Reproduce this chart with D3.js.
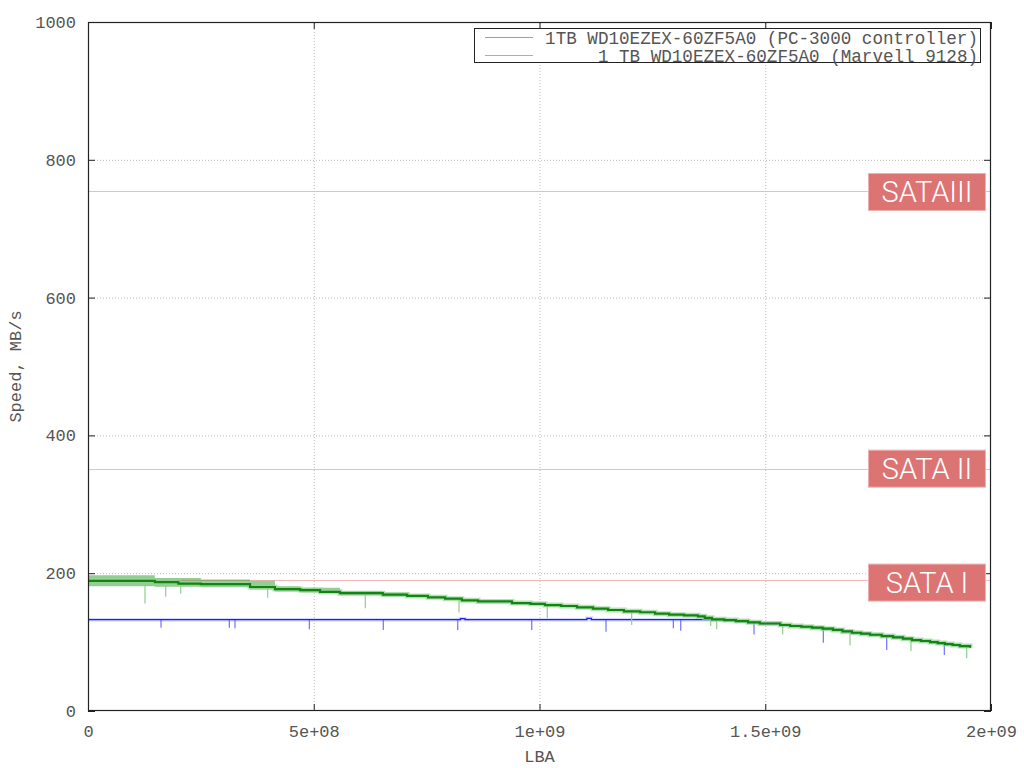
<!DOCTYPE html>
<html>
<head>
<meta charset="utf-8">
<script src="https://cdn.jsdelivr.net/npm/d3@7"></script>
<style>
  html, body { margin: 0; padding: 0; background: #fff; }
  svg { display: block; }
</style>
</head>
<body>
<svg id="chart" width="1024" height="768"></svg>
<script>
// ---------------- DATA ----------------
const xTicks = [0, 5e8, 1e9, 1.5e9, 2e9];
const xTickLabels = ["0", "5e+08", "1e+09", "1.5e+09", "2e+09"];
const yTicks = [0, 200, 400, 600, 800, 1000];
const yTickLabels = ["0", "200", "400", "600", "800", "1000"];

const seriesNames = [
  "1TB WD10EZEX-60ZF5A0 (PC-3000 controller)",
  "1 TB WD10EZEX-60ZF5A0 (Marvell 9128)"
];

// Marvell 9128 (green) main trace: [LBA, MB/s] step starts
const greenTrace = [
  [0, 189], [1.48e8, 187], [2.0e8, 185], [2.5e8, 184], [3.59e8, 180],
  [4.14e8, 177], [4.7e8, 175.5], [5.14e8, 173], [5.58e8, 171], [6.53e8, 169],
  [7.07e8, 167], [7.53e8, 165], [7.91e8, 163], [8.28e8, 160.6], [8.64e8, 159],
  [9.39e8, 156.7], [9.8e8, 155.5], [1.012e9, 153.8], [1.048e9, 152.4], [1.083e9, 150.5],
  [1.1185e9, 148.5], [1.152e9, 146.6], [1.187e9, 144.7], [1.223e9, 143.3], [1.256e9, 141.2],
  [1.287e9, 139.8], [1.32e9, 138.9], [1.351e9, 137.4], [1.366e9, 135.2], [1.382e9, 133],
  [1.409e9, 132], [1.435e9, 130.5], [1.462e9, 128.7], [1.488e9, 127], [1.533e9, 124.8],
  [1.555e9, 123.4], [1.58e9, 122.3], [1.6035e9, 121], [1.627e9, 119.5], [1.65e9, 117.6],
  [1.671e9, 115.5], [1.692e9, 113.6], [1.712e9, 112.2], [1.732e9, 110.7], [1.758e9, 108.8],
  [1.783e9, 106.9], [1.805e9, 105], [1.825e9, 103], [1.845e9, 101.6], [1.865e9, 100.1],
  [1.882e9, 98.6], [1.898e9, 97.2], [1.915e9, 95.8], [1.931e9, 94.3], [1.9535e9, 91.9]
];
// green noise band at the start of the disk: [LBA, low, high]
const greenBand = [
  [0, 181, 197], [1.48e8, 180.5, 193], [2.5e8, 179.5, 191], [3.59e8, 176.5, 189],
  [4.14e8, 173.5, 181], [4.7e8, 172, 179], [5.58e8, 168, 174], [6.53e8, 166.5, 171.5],
  [7.07e8, 164.5, 169.5]
];
// green downward spikes: [LBA, minimum MB/s]
const greenSpikes = [
  [1.262e8, 156], [1.721e8, 166], [2.053e8, 170], [3.98e8, 164.5], [6.142e8, 149],
  [8.217e8, 143], [1.0173e9, 134.5], [1.2042e9, 124.8], [1.3792e9, 123.4], [1.3925e9, 118.6],
  [1.5386e9, 111], [1.6877e9, 95], [1.8228e9, 87], [1.9462e9, 76.5]
];

// PC-3000 (blue) trace: [LBA, MB/s]
const blueTrace = [
  [0, 132.6], [8.15e8, 132.6], [8.25e8, 134], [8.35e8, 132.6], [1.095e9, 132.6],
  [1.105e9, 134.5], [1.115e9, 132.6], [1.395e9, 132.6], [1.409e9, 132], [1.435e9, 130.5],
  [1.462e9, 128.7], [1.488e9, 127], [1.533e9, 124.8], [1.555e9, 123.4], [1.58e9, 122.3],
  [1.6035e9, 121], [1.627e9, 119.5], [1.65e9, 117.6], [1.671e9, 115.5], [1.692e9, 113.6],
  [1.712e9, 112.2], [1.732e9, 110.7], [1.758e9, 108.8], [1.783e9, 106.9], [1.805e9, 105],
  [1.825e9, 103], [1.845e9, 101.6], [1.865e9, 100.1], [1.882e9, 98.6], [1.898e9, 97.2],
  [1.915e9, 95.8], [1.931e9, 94.3], [1.9535e9, 92.3]
];
// blue downward spikes: [LBA, minimum MB/s]
const blueSpikes = [
  [1.617e8, 121], [3.13e8, 121], [3.256e8, 120], [4.902e8, 118.6], [6.54e8, 117.6],
  [8.189e8, 117.6], [9.828e8, 117.6], [1.1473e9, 115], [1.2964e9, 120], [1.3128e9, 116.5],
  [1.4751e9, 111], [1.6286e9, 99], [1.769e9, 88.5], [1.8966e9, 81.3]
];

// interface limits
const sataNames = ["SATAIII", "SATA II", "SATA I"];
const sataValues = [754, 351, 190];

// ---------------- CHART ----------------
const m = { left: 88, right: 991, top: 22, bottom: 711 };
const svg = d3.select("#chart");
const x = d3.scaleLinear().domain([0, 2e9]).range([m.left, m.right]);
const y = d3.scaleLinear().domain([0, 1000]).range([m.bottom, m.top]);
const monoFont = "'Liberation Mono', 'DejaVu Sans Mono', monospace";
const textColor = "#555";

// grid
const gridX = svg.append("g").attr("transform", `translate(0,${m.bottom})`)
  .call(d3.axisBottom(x).tickValues(xTicks.slice(1, -1)).tickSize(-(m.bottom - m.top)).tickFormat(""));
const gridY = svg.append("g").attr("transform", `translate(${m.left},0)`)
  .call(d3.axisLeft(y).tickValues(yTicks.slice(1, -1)).tickSize(-(m.right - m.left)).tickFormat(""));
[gridX, gridY].forEach(g => {
  g.select(".domain").remove();
  g.selectAll("line").attr("stroke", "#b8b8b8").attr("stroke-width", 1).attr("stroke-dasharray", "1,2");
});

// interface limit lines
const sataColors = ["#d8c4c4", "#dcc4c4", "#f4b8b8"];
svg.append("g").selectAll("line").data(sataValues).join("line")
  .attr("x1", m.left).attr("x2", m.right)
  .attr("y1", d => Math.round(y(d)) + 0.5).attr("y2", d => Math.round(y(d)) + 0.5)
  .attr("stroke", (d, i) => sataColors[i]).attr("stroke-width", 1);

// clip
svg.append("clipPath").attr("id", "plotclip").append("rect")
  .attr("x", m.left).attr("y", m.top).attr("width", m.right - m.left).attr("height", m.bottom - m.top);
const plot = svg.append("g").attr("clip-path", "url(#plotclip)");

const stepLine = d3.line().x(d => x(d[0])).y(d => y(d[1])).curve(d3.curveStepAfter);
const stepAt = (trace, lba) => {
  const i = Math.max(0, d3.bisector(d => d[0]).right(trace, lba) - 1);
  return trace[i][1];
};

// blue series
plot.append("path").datum(blueTrace).attr("d", stepLine)
  .attr("fill", "none").attr("stroke", "#b8bcff").attr("stroke-width", 3.5).attr("opacity", 0.6);
plot.append("g").selectAll("line").data(blueSpikes).join("line")
  .attr("x1", d => x(d[0])).attr("x2", d => x(d[0]))
  .attr("y1", d => y(stepAt(blueTrace, d[0]))).attr("y2", d => y(d[1]))
  .attr("stroke", "#7070ff").attr("stroke-width", 1.2);
plot.append("path").datum(blueTrace).attr("d", stepLine)
  .attr("fill", "none").attr("stroke", "#2020f0").attr("stroke-width", 1.3);

// green series
const bandArea = d3.area().x(d => x(d[0])).y0(d => y(d[1])).y1(d => y(d[2])).curve(d3.curveStepAfter);
plot.append("path").datum(greenBand).attr("d", bandArea)
  .attr("fill", "#2a9a2a").attr("opacity", 0.5);
plot.append("path").datum(greenTrace).attr("d", stepLine)
  .attr("fill", "none").attr("stroke", "#94d494").attr("stroke-width", 5).attr("opacity", 0.7);
plot.append("g").selectAll("line").data(greenSpikes).join("line")
  .attr("x1", d => x(d[0])).attr("x2", d => x(d[0]))
  .attr("y1", d => y(stepAt(greenTrace, d[0]))).attr("y2", d => y(d[1]))
  .attr("stroke", "#8fcf8f").attr("stroke-width", 1.2);
plot.append("path").datum(greenTrace).attr("d", stepLine)
  .attr("fill", "none").attr("stroke", "#128412").attr("stroke-width", 2.2);

// axes (inward ticks, mirrored)
const tickLen = 7;
const axB = svg.append("g").attr("transform", `translate(0,${m.bottom})`)
  .call(d3.axisBottom(x).tickValues(xTicks).tickSize(-tickLen).tickFormat((d, i) => xTickLabels[i]));
const axT = svg.append("g").attr("transform", `translate(0,${m.top})`)
  .call(d3.axisTop(x).tickValues(xTicks).tickSize(-tickLen).tickFormat(""));
const axL = svg.append("g").attr("transform", `translate(${m.left},0)`)
  .call(d3.axisLeft(y).tickValues(yTicks).tickSize(-tickLen).tickFormat((d, i) => yTickLabels[i]));
const axR = svg.append("g").attr("transform", `translate(${m.right},0)`)
  .call(d3.axisRight(y).tickValues(yTicks).tickSize(-tickLen).tickFormat(""));
[axB, axT, axL, axR].forEach(g => {
  g.select(".domain").remove();
  g.selectAll("line").attr("stroke", "#222").attr("stroke-width", 1);
  g.selectAll("text").attr("font-family", monoFont).attr("font-size", 17).attr("fill", textColor);
});
axB.selectAll("text").attr("dy", "0.71em").attr("y", 14);
axL.selectAll("text").attr("x", -12);

// border
svg.append("rect").attr("x", m.left + 0.5).attr("y", m.top + 0.5)
  .attr("width", m.right - m.left - 1).attr("height", m.bottom - m.top - 1)
  .attr("fill", "none").attr("stroke", "#222").attr("stroke-width", 1.2);

// axis titles
svg.append("text").attr("x", (m.left + m.right) / 2).attr("y", 762)
  .attr("text-anchor", "middle").attr("font-family", monoFont).attr("font-size", 17)
  .attr("fill", textColor).text("LBA");
svg.append("text").attr("transform", `translate(21,${(m.top + m.bottom) / 2}) rotate(-90)`)
  .attr("text-anchor", "middle").attr("font-family", monoFont).attr("font-size", 17)
  .attr("fill", textColor).text("Speed, MB/s");

// legend
const lg = svg.append("g");
lg.append("rect").attr("x", 474.5).attr("y", 28.5).attr("width", 506).attr("height", 34)
  .attr("fill", "#fff").attr("stroke", "#222").attr("stroke-width", 1);
const legendColors = ["#9090ff", "#88c888"];
seriesNames.forEach((name, i) => {
  const ly = 37.5 + i * 18;
  lg.append("line").attr("x1", 485).attr("x2", 533).attr("y1", ly).attr("y2", ly)
    .attr("stroke", legendColors[i]).attr("stroke-width", 1);
  lg.append("text").attr("x", 978).attr("y", ly).attr("dy", "0.35em")
    .attr("text-anchor", "end").attr("font-family", monoFont).attr("font-size", 17.6)
    .attr("fill", "#555").text(name);
});

// interface labels
const boxOffsets = [-18, -19, -16];
const lab = svg.append("g");
sataValues.forEach((v, i) => {
  const top = y(v) + boxOffsets[i];
  lab.append("rect").attr("x", 868.5).attr("y", top).attr("width", 117).attr("height", 37)
    .attr("fill", "#dc7474").attr("stroke", "#efb0b0").attr("stroke-width", 1);
  lab.append("text").attr("x", 927).attr("y", top + 18.5).attr("dy", "0.36em")
    .attr("text-anchor", "middle").attr("font-family", "Roboto, 'Open Sans', sans-serif")
    .attr("font-weight", 300).attr("font-size", 29).attr("fill", "#fff").text(sataNames[i]);
});
</script>
</body>
</html>
